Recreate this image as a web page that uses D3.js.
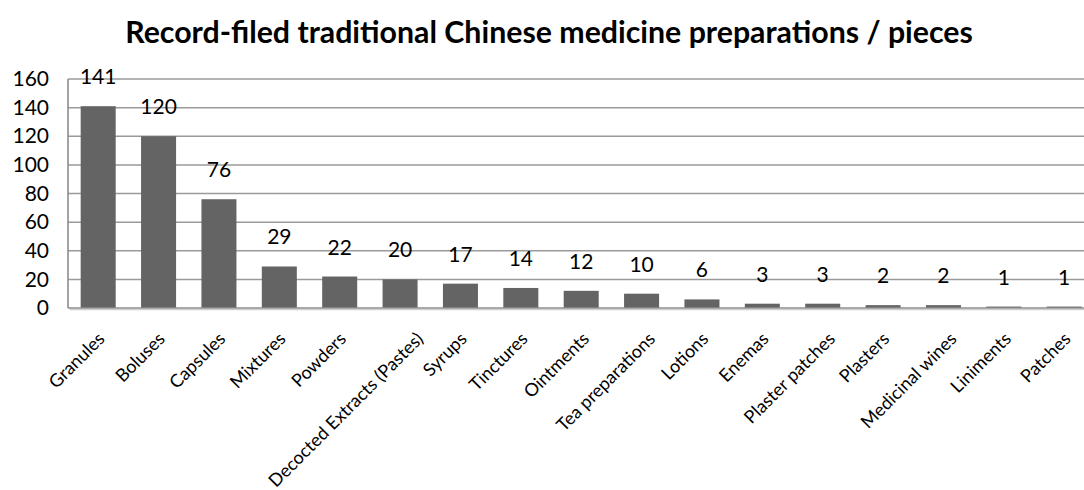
<!DOCTYPE html>
<html>
<head>
<meta charset="utf-8">
<script src="https://cdn.jsdelivr.net/npm/d3@7"></script>
<style>
  html, body { margin: 0; padding: 0; background: #fff; }
  svg { display: block; font-family: Lato, "Open Sans", sans-serif; }
</style>
</head>
<body>
<svg id="chart" width="1084" height="490"></svg>
<script>
// Preparation forms and the number of record-filed items for each
const categories = [
  "Granules", "Boluses", "Capsules", "Mixtures", "Powders",
  "Decocted Extracts (Pastes)", "Syrups", "Tinctures", "Ointments",
  "Tea preparations", "Lotions", "Enemas", "Plaster patches", "Plasters",
  "Medicinal wines", "Liniments", "Patches"
];
const counts = [141, 120, 76, 29, 22, 20, 17, 14, 12, 10, 6, 3, 3, 2, 2, 1, 1];
const yTicks = [0, 20, 40, 60, 80, 100, 120, 140, 160];
const titleText = "Record-filed traditional Chinese medicine preparations / pieces";

const svg = d3.select("#chart");

// Plot area (the category axis runs slightly past the right edge of the canvas)
const plot = { left: 68, right: 1094.4, top: 79, bottom: 308 };

const x = d3.scaleBand()
  .domain(categories)
  .range([plot.left, plot.right])
  .paddingInner(0.42)
  .paddingOuter(0.21);

const y = d3.scaleLinear()
  .domain([0, 160])
  .range([plot.bottom, plot.top]);

// Title
svg.append("text")
  .attr("x", 549)
  .attr("y", 43)
  .attr("text-anchor", "middle")
  .attr("font-weight", "bold")
  .attr("font-size", 30.3)
  .attr("fill", "#000")
  .text(titleText);

// Horizontal gridlines
svg.append("g")
  .selectAll("line")
  .data(yTicks.filter(d => d > 0))
  .join("line")
  .attr("x1", plot.left)
  .attr("x2", plot.right)
  .attr("y1", d => y(d))
  .attr("y2", d => y(d))
  .attr("stroke", "#9a9a9a")
  .attr("stroke-width", 1.5);

// Y axis labels
const yAxis = d3.axisLeft(y).tickValues(yTicks).tickSize(0).tickPadding(19);
const yg = svg.append("g")
  .attr("transform", `translate(${plot.left},0)`)
  .call(yAxis);
yg.select(".domain").remove();
yg.selectAll("text")
  .attr("font-family", "Lato, 'Open Sans', sans-serif")
  .attr("font-size", 21)
  .attr("fill", "#000");

// Bars
svg.append("g")
  .selectAll("rect")
  .data(categories.map((c, i) => ({ c, v: counts[i] })))
  .join("rect")
  .attr("x", d => x(d.c))
  .attr("y", d => y(d.v))
  .attr("width", x.bandwidth())
  .attr("height", d => y(0) - y(d.v))
  .attr("fill", "#646464");

// Axis lines with a soft shadow
svg.append("line")
  .attr("x1", plot.left + 1.5).attr("x2", plot.right)
  .attr("y1", plot.bottom + 1.6).attr("y2", plot.bottom + 1.6)
  .attr("stroke", "#cfcfcf").attr("stroke-width", 1.2);
svg.append("line")
  .attr("x1", plot.left).attr("x2", plot.left)
  .attr("y1", plot.top).attr("y2", plot.bottom)
  .attr("stroke", "#8c8c8c").attr("stroke-width", 1.6);
svg.append("line")
  .attr("x1", plot.left).attr("x2", plot.right)
  .attr("y1", plot.bottom).attr("y2", plot.bottom)
  .attr("stroke", "#8c8c8c").attr("stroke-width", 1.6);

// Value labels above bars
svg.append("g")
  .selectAll("text")
  .data(categories.map((c, i) => ({ c, v: counts[i] })))
  .join("text")
  .attr("x", d => x(d.c) + x.bandwidth() / 2)
  .attr("y", d => y(d.v) - 22)
  .attr("text-anchor", "middle")
  .attr("font-size", 21)
  .attr("fill", "#000")
  .text(d => d.v);

// Rotated category labels; longer labels sit a little further right of their tick
const xAxis = d3.axisBottom(x).tickSize(0).tickPadding(0);
const xg = svg.append("g")
  .attr("transform", `translate(0,${plot.bottom})`)
  .call(xAxis);
xg.select(".domain").remove();
xg.selectAll(".tick text")
  .attr("font-family", "Lato, 'Open Sans', sans-serif")
  .attr("font-size", 18)
  .attr("fill", "#000")
  .attr("text-anchor", "end")
  .attr("dy", "0.71em")
  .each(function () {
    const len = this.getComputedTextLength();
    const shift = -1.5 + Math.max(0, 0.12 * (len - 70));
    d3.select(this).attr("transform", `translate(${shift},23) rotate(-45)`);
  });
</script>
</body>
</html>
